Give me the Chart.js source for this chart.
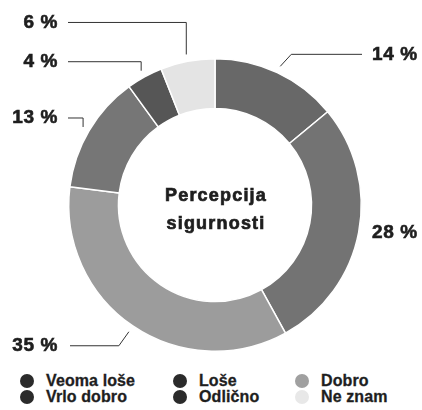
<!DOCTYPE html>
<html lang="sr">
<head>
<meta charset="utf-8">
<script src="https://cdn.jsdelivr.net/npm/chart.js@4/dist/chart.umd.min.js"></script>
<style>
    html, body { margin: 0; padding: 0; background: #fff; }
    #okvir { position: relative; width: 422px; height: 410px; }
    #grafik { position: absolute; left: 0; top: 0; }
    #legenda {
        position: absolute; left: 20px; top: 373px;
        display: grid; grid-template-columns: 153px 122px auto; grid-auto-rows: 16px;
        font: bold 16px "Liberation Sans", Arial, sans-serif; color: #1e1e1e; letter-spacing: 0.1px;
        -webkit-text-stroke: 0.3px #1e1e1e;
    }
    #legenda .stavka { display: flex; align-items: center; white-space: nowrap; }
    #legenda .tacka { width: 14px; height: 14px; border-radius: 50%; margin-right: 12px; }
</style>
</head>
<body>
<div id="okvir">
    <canvas id="grafik" width="422" height="365"></canvas>
    <div id="legenda"></div>
</div>
<script>
// Podaci - redosled segmenata u krugu (u smeru kazaljke, od vrha)
const kategorije = ['Odlično', 'Vrlo dobro', 'Dobro', 'Loše', 'Veoma loše', 'Ne znam'];
const procenti = [14, 28, 35, 13, 4, 6];
const boje = ['#686868', '#737373', '#9c9c9c', '#767676', '#565656', '#e4e4e4'];

// Legenda ima svoj redosled i tamnije tačke
const redosledLegende = ['Veoma loše', 'Loše', 'Dobro', 'Vrlo dobro', 'Odlično', 'Ne znam'];
const bojeLegende = ['#2b2b2b', '#2b2b2b', '#a0a0a0', '#2b2b2b', '#2b2b2b', '#e8e8e8'];

// Raspored oznaka: strana, vrsta linije i pomak oznake po visini
const oznake = [
    { strana: 'desno', linija: 'kosa', pomak: -12 },
    { strana: 'desno', linija: 'bez', pomak: 0 },
    { strana: 'levo', linija: 'kosa', pomak: 14 },
    { strana: 'levo', linija: 'uspravna', pomak: -9 },
    { strana: 'levo', linija: 'uspravna', pomak: -9 },
    { strana: 'levo', linija: 'uspravna', pomak: -32 }
];

const fontOznake = 'bold 19px "Liberation Sans", Arial, sans-serif';

// tekst sa malo debljim potezom, kao u originalu
function debeliTekst(ctx, tekst, x, y) {
    ctx.fillText(tekst, x, y);
    ctx.strokeText(tekst, x, y);
}

const oznakePlugin = {
    id: 'oznake',
    afterDatasetsDraw(chart) {
        const ctx = chart.ctx;
        const area = chart.chartArea;
        const meta = chart.getDatasetMeta(0);
        ctx.save();
        ctx.font = fontOznake;
        ctx.letterSpacing = '0.6px';
        ctx.fillStyle = '#1e1e1e';
        ctx.textBaseline = 'middle';
        meta.data.forEach((arc, i) => {
            const p = arc.getProps(['x', 'y', 'startAngle', 'endAngle', 'outerRadius'], true);
            const ugao = (p.startAngle + p.endAngle) / 2;
            const r = p.outerRadius + 7;
            const ax = p.x + Math.cos(ugao) * r;
            const ay = p.y + Math.sin(ugao) * r;
            const o = oznake[i];
            const tekst = procenti[i] + ' %';
            let ty = ay + o.pomak;
            ctx.strokeStyle = '#333';
            ctx.lineWidth = 1;
            ctx.beginPath();
            if (o.linija === 'kosa') {
                const ex = ax + (o.strana === 'desno' ? 11 : -10);
                ctx.moveTo(ax, ay);
                ctx.lineTo(ex, ty);
                ctx.lineTo(o.strana === 'desno' ? area.right : area.left + 2, ty);
                ctx.stroke();
            } else if (o.linija === 'uspravna') {
                ctx.moveTo(ax, ay);
                ctx.lineTo(ax, ty);
                ctx.lineTo(area.left, ty);
                ctx.stroke();
            } else {
                ty = p.y + Math.sin(ugao) * p.outerRadius;
            }
            ctx.strokeStyle = '#1e1e1e';
            ctx.lineWidth = 0.6;
            if (o.strana === 'desno') {
                ctx.textAlign = 'left';
                debeliTekst(ctx, tekst, area.right + 10, ty);
            } else {
                ctx.textAlign = 'right';
                debeliTekst(ctx, tekst, area.left - 10, ty);
            }
        });
        ctx.restore();
    }
};

const centarPlugin = {
    id: 'centar',
    afterDraw(chart) {
        const ctx = chart.ctx;
        const arc = chart.getDatasetMeta(0).data[0];
        ctx.save();
        ctx.font = 'bold 18px "Liberation Sans", Arial, sans-serif';
        ctx.letterSpacing = '1.2px';
        ctx.fillStyle = '#1e1e1e';
        ctx.strokeStyle = '#1e1e1e';
        ctx.lineWidth = 0.7;
        ctx.textAlign = 'center';
        ctx.textBaseline = 'middle';
        debeliTekst(ctx, 'Percepcija', arc.x + 1, arc.y - 9);
        debeliTekst(ctx, 'sigurnosti', arc.x + 1, arc.y + 19);
        ctx.restore();
    }
};

const grafik = new Chart(document.getElementById('grafik'), {
    type: 'doughnut',
    data: {
        labels: kategorije,
        datasets: [{
            data: procenti,
            backgroundColor: boje,
            borderColor: '#fff',
            borderWidth: 1.5
        }]
    },
    options: {
        responsive: false,
        animation: false,
        cutout: '66%',
        layout: { padding: { left: 68, right: 60, top: 58, bottom: 13 } },
        plugins: {
            legend: { display: false },
            tooltip: { enabled: false }
        }
    },
    plugins: [oznakePlugin, centarPlugin]
});

// HTML legenda
const legenda = document.getElementById('legenda');
redosledLegende.forEach((naziv, i) => {
    const stavka = document.createElement('div');
    stavka.className = 'stavka';
    const tacka = document.createElement('span');
    tacka.className = 'tacka';
    tacka.style.background = bojeLegende[i];
    stavka.appendChild(tacka);
    stavka.appendChild(document.createTextNode(naziv));
    legenda.appendChild(stavka);
});
</script>
</body>
</html>
